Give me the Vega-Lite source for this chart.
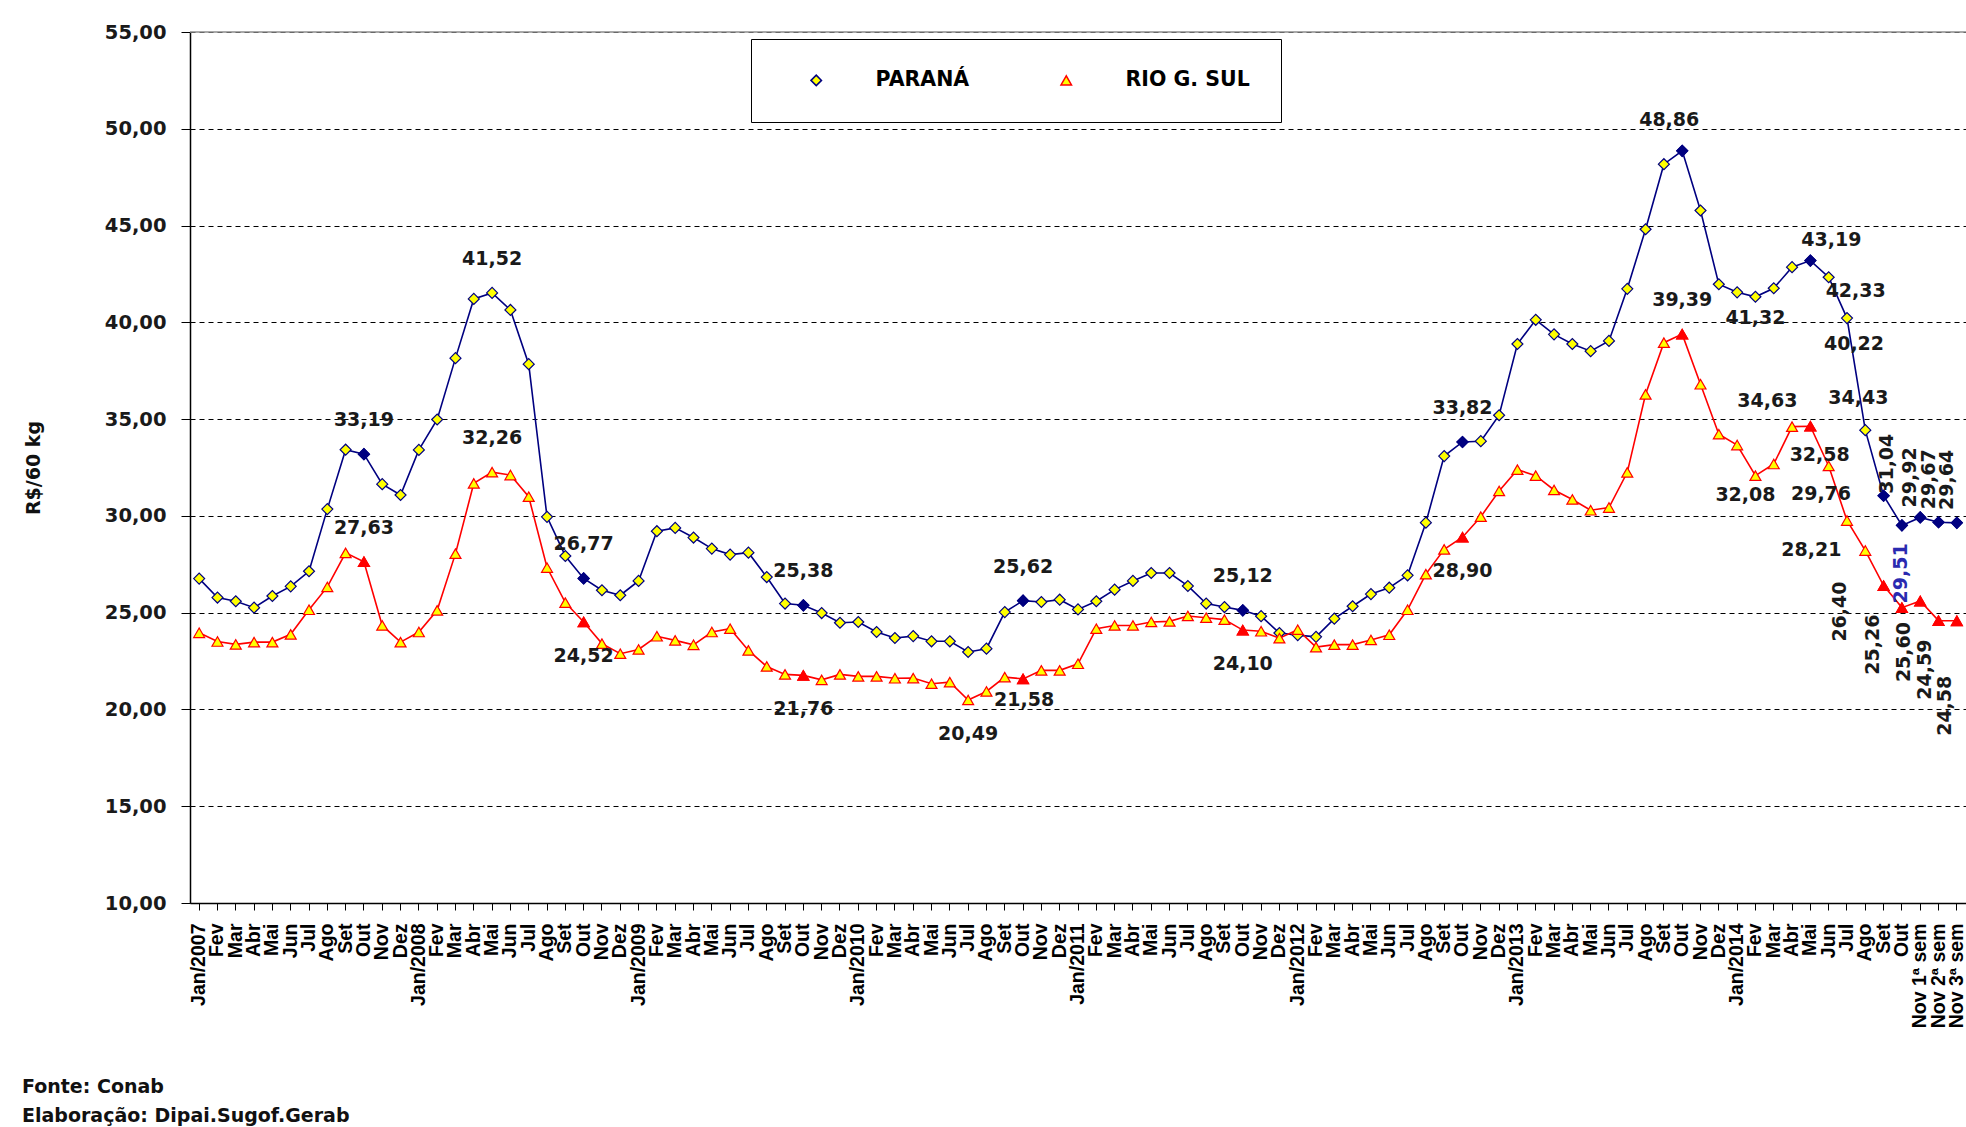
{
  "$schema": "https://vega.github.io/schema/vega-lite/v6.json",
  "autosize": {"type": "none"},
  "width": 1776,
  "height": 871,
  "padding": {"left": 190, "top": 32, "right": 0, "bottom": 224},
  "background": "white",
  "title": {
    "text": ["Fonte: Conab", "Elaboração: Dipai.Sugof.Gerab"],
    "orient": "bottom",
    "anchor": "start",
    "frame": "group",
    "dx": -168,
    "offset": 50,
    "font": "DejaVu Sans",
    "fontSize": 19,
    "fontWeight": "bold",
    "color": "#111111",
    "lineHeight": 29
  },
  "config": {
    "view": {"stroke": null}
  },
  "data": {"values": [
    {"periodo": "Jan/2007", "serie": "PARANÁ", "valor": 26.76},
    {"periodo": "Fev/2007", "serie": "PARANÁ", "valor": 25.78},
    {"periodo": "Mar/2007", "serie": "PARANÁ", "valor": 25.59},
    {"periodo": "Abr/2007", "serie": "PARANÁ", "valor": 25.26},
    {"periodo": "Mai/2007", "serie": "PARANÁ", "valor": 25.86},
    {"periodo": "Jun/2007", "serie": "PARANÁ", "valor": 26.36},
    {"periodo": "Jul/2007", "serie": "PARANÁ", "valor": 27.14},
    {"periodo": "Ago/2007", "serie": "PARANÁ", "valor": 30.35},
    {"periodo": "Set/2007", "serie": "PARANÁ", "valor": 33.42},
    {"periodo": "Out/2007", "serie": "PARANÁ", "valor": 33.19},
    {"periodo": "Nov/2007", "serie": "PARANÁ", "valor": 31.64},
    {"periodo": "Dez/2007", "serie": "PARANÁ", "valor": 31.08},
    {"periodo": "Jan/2008", "serie": "PARANÁ", "valor": 33.41},
    {"periodo": "Fev/2008", "serie": "PARANÁ", "valor": 34.98},
    {"periodo": "Mar/2008", "serie": "PARANÁ", "valor": 38.15},
    {"periodo": "Abr/2008", "serie": "PARANÁ", "valor": 41.21},
    {"periodo": "Mai/2008", "serie": "PARANÁ", "valor": 41.52},
    {"periodo": "Jun/2008", "serie": "PARANÁ", "valor": 40.64},
    {"periodo": "Jul/2008", "serie": "PARANÁ", "valor": 37.84},
    {"periodo": "Ago/2008", "serie": "PARANÁ", "valor": 29.95},
    {"periodo": "Set/2008", "serie": "PARANÁ", "valor": 27.93},
    {"periodo": "Out/2008", "serie": "PARANÁ", "valor": 26.77},
    {"periodo": "Nov/2008", "serie": "PARANÁ", "valor": 26.16},
    {"periodo": "Dez/2008", "serie": "PARANÁ", "valor": 25.90},
    {"periodo": "Jan/2009", "serie": "PARANÁ", "valor": 26.64},
    {"periodo": "Fev/2009", "serie": "PARANÁ", "valor": 29.21},
    {"periodo": "Mar/2009", "serie": "PARANÁ", "valor": 29.38},
    {"periodo": "Abr/2009", "serie": "PARANÁ", "valor": 28.88},
    {"periodo": "Mai/2009", "serie": "PARANÁ", "valor": 28.31},
    {"periodo": "Jun/2009", "serie": "PARANÁ", "valor": 28.00},
    {"periodo": "Jul/2009", "serie": "PARANÁ", "valor": 28.10},
    {"periodo": "Ago/2009", "serie": "PARANÁ", "valor": 26.84},
    {"periodo": "Set/2009", "serie": "PARANÁ", "valor": 25.47},
    {"periodo": "Out/2009", "serie": "PARANÁ", "valor": 25.38},
    {"periodo": "Nov/2009", "serie": "PARANÁ", "valor": 24.98},
    {"periodo": "Dez/2009", "serie": "PARANÁ", "valor": 24.48},
    {"periodo": "Jan/2010", "serie": "PARANÁ", "valor": 24.52},
    {"periodo": "Fev/2010", "serie": "PARANÁ", "valor": 24.00},
    {"periodo": "Mar/2010", "serie": "PARANÁ", "valor": 23.69},
    {"periodo": "Abr/2010", "serie": "PARANÁ", "valor": 23.79},
    {"periodo": "Mai/2010", "serie": "PARANÁ", "valor": 23.52},
    {"periodo": "Jun/2010", "serie": "PARANÁ", "valor": 23.52},
    {"periodo": "Jul/2010", "serie": "PARANÁ", "valor": 22.97},
    {"periodo": "Ago/2010", "serie": "PARANÁ", "valor": 23.14},
    {"periodo": "Set/2010", "serie": "PARANÁ", "valor": 25.03},
    {"periodo": "Out/2010", "serie": "PARANÁ", "valor": 25.62},
    {"periodo": "Nov/2010", "serie": "PARANÁ", "valor": 25.55},
    {"periodo": "Dez/2010", "serie": "PARANÁ", "valor": 25.67},
    {"periodo": "Jan/2011", "serie": "PARANÁ", "valor": 25.17},
    {"periodo": "Fev/2011", "serie": "PARANÁ", "valor": 25.59},
    {"periodo": "Mar/2011", "serie": "PARANÁ", "valor": 26.19},
    {"periodo": "Abr/2011", "serie": "PARANÁ", "valor": 26.64},
    {"periodo": "Mai/2011", "serie": "PARANÁ", "valor": 27.05},
    {"periodo": "Jun/2011", "serie": "PARANÁ", "valor": 27.05},
    {"periodo": "Jul/2011", "serie": "PARANÁ", "valor": 26.38},
    {"periodo": "Ago/2011", "serie": "PARANÁ", "valor": 25.47},
    {"periodo": "Set/2011", "serie": "PARANÁ", "valor": 25.29},
    {"periodo": "Out/2011", "serie": "PARANÁ", "valor": 25.12},
    {"periodo": "Nov/2011", "serie": "PARANÁ", "valor": 24.82},
    {"periodo": "Dez/2011", "serie": "PARANÁ", "valor": 23.95},
    {"periodo": "Jan/2012", "serie": "PARANÁ", "valor": 23.84},
    {"periodo": "Fev/2012", "serie": "PARANÁ", "valor": 23.75},
    {"periodo": "Mar/2012", "serie": "PARANÁ", "valor": 24.69},
    {"periodo": "Abr/2012", "serie": "PARANÁ", "valor": 25.33},
    {"periodo": "Mai/2012", "serie": "PARANÁ", "valor": 25.96},
    {"periodo": "Jun/2012", "serie": "PARANÁ", "valor": 26.29},
    {"periodo": "Jul/2012", "serie": "PARANÁ", "valor": 26.93},
    {"periodo": "Ago/2012", "serie": "PARANÁ", "valor": 29.65},
    {"periodo": "Set/2012", "serie": "PARANÁ", "valor": 33.09},
    {"periodo": "Out/2012", "serie": "PARANÁ", "valor": 33.82},
    {"periodo": "Nov/2012", "serie": "PARANÁ", "valor": 33.86},
    {"periodo": "Dez/2012", "serie": "PARANÁ", "valor": 35.20},
    {"periodo": "Jan/2013", "serie": "PARANÁ", "valor": 38.88},
    {"periodo": "Fev/2013", "serie": "PARANÁ", "valor": 40.13},
    {"periodo": "Mar/2013", "serie": "PARANÁ", "valor": 39.38},
    {"periodo": "Abr/2013", "serie": "PARANÁ", "valor": 38.88},
    {"periodo": "Mai/2013", "serie": "PARANÁ", "valor": 38.51},
    {"periodo": "Jun/2013", "serie": "PARANÁ", "valor": 39.04},
    {"periodo": "Jul/2013", "serie": "PARANÁ", "valor": 41.73},
    {"periodo": "Ago/2013", "serie": "PARANÁ", "valor": 44.81},
    {"periodo": "Set/2013", "serie": "PARANÁ", "valor": 48.17},
    {"periodo": "Out/2013", "serie": "PARANÁ", "valor": 48.86},
    {"periodo": "Nov/2013", "serie": "PARANÁ", "valor": 45.78},
    {"periodo": "Dez/2013", "serie": "PARANÁ", "valor": 41.97},
    {"periodo": "Jan/2014", "serie": "PARANÁ", "valor": 41.55},
    {"periodo": "Fev/2014", "serie": "PARANÁ", "valor": 41.32},
    {"periodo": "Mar/2014", "serie": "PARANÁ", "valor": 41.76},
    {"periodo": "Abr/2014", "serie": "PARANÁ", "valor": 42.85},
    {"periodo": "Mai/2014", "serie": "PARANÁ", "valor": 43.19},
    {"periodo": "Jun/2014", "serie": "PARANÁ", "valor": 42.33},
    {"periodo": "Jul/2014", "serie": "PARANÁ", "valor": 40.22},
    {"periodo": "Ago/2014", "serie": "PARANÁ", "valor": 34.43},
    {"periodo": "Set/2014", "serie": "PARANÁ", "valor": 31.04},
    {"periodo": "Out/2014", "serie": "PARANÁ", "valor": 29.51},
    {"periodo": "Nov 1ª sem", "serie": "PARANÁ", "valor": 29.92},
    {"periodo": "Nov 2ª sem", "serie": "PARANÁ", "valor": 29.67},
    {"periodo": "Nov 3ª sem", "serie": "PARANÁ", "valor": 29.64},
    {"periodo": "Jan/2007", "serie": "RIO G. SUL", "valor": 23.96},
    {"periodo": "Fev/2007", "serie": "RIO G. SUL", "valor": 23.51},
    {"periodo": "Mar/2007", "serie": "RIO G. SUL", "valor": 23.36},
    {"periodo": "Abr/2007", "serie": "RIO G. SUL", "valor": 23.48},
    {"periodo": "Mai/2007", "serie": "RIO G. SUL", "valor": 23.48},
    {"periodo": "Jun/2007", "serie": "RIO G. SUL", "valor": 23.88},
    {"periodo": "Jul/2007", "serie": "RIO G. SUL", "valor": 25.15},
    {"periodo": "Ago/2007", "serie": "RIO G. SUL", "valor": 26.33},
    {"periodo": "Set/2007", "serie": "RIO G. SUL", "valor": 28.09},
    {"periodo": "Out/2007", "serie": "RIO G. SUL", "valor": 27.63},
    {"periodo": "Nov/2007", "serie": "RIO G. SUL", "valor": 24.34},
    {"periodo": "Dez/2007", "serie": "RIO G. SUL", "valor": 23.48},
    {"periodo": "Jan/2008", "serie": "RIO G. SUL", "valor": 24.00},
    {"periodo": "Fev/2008", "serie": "RIO G. SUL", "valor": 25.12},
    {"periodo": "Mar/2008", "serie": "RIO G. SUL", "valor": 28.05},
    {"periodo": "Abr/2008", "serie": "RIO G. SUL", "valor": 31.68},
    {"periodo": "Mai/2008", "serie": "RIO G. SUL", "valor": 32.26},
    {"periodo": "Jun/2008", "serie": "RIO G. SUL", "valor": 32.11},
    {"periodo": "Jul/2008", "serie": "RIO G. SUL", "valor": 30.99},
    {"periodo": "Ago/2008", "serie": "RIO G. SUL", "valor": 27.33},
    {"periodo": "Set/2008", "serie": "RIO G. SUL", "valor": 25.52},
    {"periodo": "Out/2008", "serie": "RIO G. SUL", "valor": 24.52},
    {"periodo": "Nov/2008", "serie": "RIO G. SUL", "valor": 23.40},
    {"periodo": "Dez/2008", "serie": "RIO G. SUL", "valor": 22.88},
    {"periodo": "Jan/2009", "serie": "RIO G. SUL", "valor": 23.10},
    {"periodo": "Fev/2009", "serie": "RIO G. SUL", "valor": 23.78},
    {"periodo": "Mar/2009", "serie": "RIO G. SUL", "valor": 23.57},
    {"periodo": "Abr/2009", "serie": "RIO G. SUL", "valor": 23.34},
    {"periodo": "Mai/2009", "serie": "RIO G. SUL", "valor": 24.00},
    {"periodo": "Jun/2009", "serie": "RIO G. SUL", "valor": 24.17},
    {"periodo": "Jul/2009", "serie": "RIO G. SUL", "valor": 23.05},
    {"periodo": "Ago/2009", "serie": "RIO G. SUL", "valor": 22.22},
    {"periodo": "Set/2009", "serie": "RIO G. SUL", "valor": 21.81},
    {"periodo": "Out/2009", "serie": "RIO G. SUL", "valor": 21.76},
    {"periodo": "Nov/2009", "serie": "RIO G. SUL", "valor": 21.53},
    {"periodo": "Dez/2009", "serie": "RIO G. SUL", "valor": 21.81},
    {"periodo": "Jan/2010", "serie": "RIO G. SUL", "valor": 21.71},
    {"periodo": "Fev/2010", "serie": "RIO G. SUL", "valor": 21.71},
    {"periodo": "Mar/2010", "serie": "RIO G. SUL", "valor": 21.61},
    {"periodo": "Abr/2010", "serie": "RIO G. SUL", "valor": 21.62},
    {"periodo": "Mai/2010", "serie": "RIO G. SUL", "valor": 21.33},
    {"periodo": "Jun/2010", "serie": "RIO G. SUL", "valor": 21.41},
    {"periodo": "Jul/2010", "serie": "RIO G. SUL", "valor": 20.49},
    {"periodo": "Ago/2010", "serie": "RIO G. SUL", "valor": 20.93},
    {"periodo": "Set/2010", "serie": "RIO G. SUL", "valor": 21.67},
    {"periodo": "Out/2010", "serie": "RIO G. SUL", "valor": 21.58},
    {"periodo": "Nov/2010", "serie": "RIO G. SUL", "valor": 22.02},
    {"periodo": "Dez/2010", "serie": "RIO G. SUL", "valor": 22.02},
    {"periodo": "Jan/2011", "serie": "RIO G. SUL", "valor": 22.36},
    {"periodo": "Fev/2011", "serie": "RIO G. SUL", "valor": 24.17},
    {"periodo": "Mar/2011", "serie": "RIO G. SUL", "valor": 24.34},
    {"periodo": "Abr/2011", "serie": "RIO G. SUL", "valor": 24.34},
    {"periodo": "Mai/2011", "serie": "RIO G. SUL", "valor": 24.52},
    {"periodo": "Jun/2011", "serie": "RIO G. SUL", "valor": 24.55},
    {"periodo": "Jul/2011", "serie": "RIO G. SUL", "valor": 24.83},
    {"periodo": "Ago/2011", "serie": "RIO G. SUL", "valor": 24.74},
    {"periodo": "Set/2011", "serie": "RIO G. SUL", "valor": 24.64},
    {"periodo": "Out/2011", "serie": "RIO G. SUL", "valor": 24.10},
    {"periodo": "Nov/2011", "serie": "RIO G. SUL", "valor": 24.04},
    {"periodo": "Dez/2011", "serie": "RIO G. SUL", "valor": 23.68},
    {"periodo": "Jan/2012", "serie": "RIO G. SUL", "valor": 24.12},
    {"periodo": "Fev/2012", "serie": "RIO G. SUL", "valor": 23.22},
    {"periodo": "Mar/2012", "serie": "RIO G. SUL", "valor": 23.35},
    {"periodo": "Abr/2012", "serie": "RIO G. SUL", "valor": 23.35},
    {"periodo": "Mai/2012", "serie": "RIO G. SUL", "valor": 23.59},
    {"periodo": "Jun/2012", "serie": "RIO G. SUL", "valor": 23.86},
    {"periodo": "Jul/2012", "serie": "RIO G. SUL", "valor": 25.15},
    {"periodo": "Ago/2012", "serie": "RIO G. SUL", "valor": 26.99},
    {"periodo": "Set/2012", "serie": "RIO G. SUL", "valor": 28.27},
    {"periodo": "Out/2012", "serie": "RIO G. SUL", "valor": 28.90},
    {"periodo": "Nov/2012", "serie": "RIO G. SUL", "valor": 29.96},
    {"periodo": "Dez/2012", "serie": "RIO G. SUL", "valor": 31.29},
    {"periodo": "Jan/2013", "serie": "RIO G. SUL", "valor": 32.39},
    {"periodo": "Fev/2013", "serie": "RIO G. SUL", "valor": 32.08},
    {"periodo": "Mar/2013", "serie": "RIO G. SUL", "valor": 31.34},
    {"periodo": "Abr/2013", "serie": "RIO G. SUL", "valor": 30.85},
    {"periodo": "Mai/2013", "serie": "RIO G. SUL", "valor": 30.29},
    {"periodo": "Jun/2013", "serie": "RIO G. SUL", "valor": 30.43},
    {"periodo": "Jul/2013", "serie": "RIO G. SUL", "valor": 32.25},
    {"periodo": "Ago/2013", "serie": "RIO G. SUL", "valor": 36.28},
    {"periodo": "Set/2013", "serie": "RIO G. SUL", "valor": 38.95},
    {"periodo": "Out/2013", "serie": "RIO G. SUL", "valor": 39.39},
    {"periodo": "Nov/2013", "serie": "RIO G. SUL", "valor": 36.80},
    {"periodo": "Dez/2013", "serie": "RIO G. SUL", "valor": 34.22},
    {"periodo": "Jan/2014", "serie": "RIO G. SUL", "valor": 33.66},
    {"periodo": "Fev/2014", "serie": "RIO G. SUL", "valor": 32.08},
    {"periodo": "Mar/2014", "serie": "RIO G. SUL", "valor": 32.68},
    {"periodo": "Abr/2014", "serie": "RIO G. SUL", "valor": 34.61},
    {"periodo": "Mai/2014", "serie": "RIO G. SUL", "valor": 34.63},
    {"periodo": "Jun/2014", "serie": "RIO G. SUL", "valor": 32.58},
    {"periodo": "Jul/2014", "serie": "RIO G. SUL", "valor": 29.76},
    {"periodo": "Ago/2014", "serie": "RIO G. SUL", "valor": 28.21},
    {"periodo": "Set/2014", "serie": "RIO G. SUL", "valor": 26.40},
    {"periodo": "Out/2014", "serie": "RIO G. SUL", "valor": 25.26},
    {"periodo": "Nov 1ª sem", "serie": "RIO G. SUL", "valor": 25.60},
    {"periodo": "Nov 2ª sem", "serie": "RIO G. SUL", "valor": 24.59},
    {"periodo": "Nov 3ª sem", "serie": "RIO G. SUL", "valor": 24.58}
  ]},
  "transform": [{"calculate": "replace(format(datum.valor, '.2f'), '.', ',')", "as": "rotulo"}],
  "layer": [
    {
      "transform": [{"filter": {"field": "serie", "equal": "PARANÁ"}}],
      "mark": {"type": "line", "strokeWidth": 1.6, "color": "#000080"},
      "encoding": {
        "x": {
          "field": "periodo", "type": "ordinal", "sort": null,
          "scale": {"type": "band", "paddingInner": 0, "paddingOuter": 0},
          "axis": {
            "title": null,
            "labelAngle": 270,
            "labelAlign": "right",
            "labelBaseline": "middle",
            "labelFont": "Liberation Sans",
            "labelFontWeight": "bold",
            "labelFontSize": 19.5,
            "labelColor": "#000000",
            "labelPadding": 13,
            "labelOverlap": false,
            "labelExpr": "indexof(datum.value, 'Jan') === 0 || indexof(datum.value, 'Nov ') === 0 ? datum.value : split(datum.value, '/')[0]",
            "tickSize": 7,
            "tickColor": "#000000",
            "domainColor": "#000000",
            "domainWidth": 1.5,
            "grid": false
          }
        },
        "y": {
          "field": "valor", "type": "quantitative",
          "scale": {"domain": [10, 55], "nice": false, "zero": false},
          "axis": {
            "title": "R$/60 kg",
            "titleFont": "DejaVu Sans",
            "titleFontSize": 19,
            "titleFontWeight": "bold",
            "titleColor": "#111111",
            "titlePadding": 61,
            "values": [10, 15, 20, 25, 30, 35, 40, 45, 50, 55],
            "labelExpr": "replace(format(datum.value, '.2f'), '.', ',')",
            "labelFont": "DejaVu Sans",
            "labelFontWeight": "bold",
            "labelFontSize": 19.5,
            "labelColor": "#1a1a1a",
            "labelPadding": 15,
            "tickSize": 9,
            "tickColor": "#000000",
            "domainColor": "#000000",
            "domainWidth": 1.5,
            "grid": true,
            "gridColor": "#000000",
            "gridDash": [5, 4],
            "gridWidth": 1.2
          }
        }
      }
    },
    {
      "transform": [{"filter": {"field": "serie", "equal": "RIO G. SUL"}}],
      "mark": {"type": "line", "strokeWidth": 1.6, "color": "#FF0000"},
      "encoding": {
        "x": {"field": "periodo", "type": "ordinal", "sort": null},
        "y": {"field": "valor", "type": "quantitative"}
      }
    },
    {
      "mark": {"type": "point", "filled": true, "fill": "#FFFF00", "strokeWidth": 1.2, "size": 120, "opacity": 1},
      "encoding": {
        "x": {"field": "periodo", "type": "ordinal", "sort": null},
        "y": {"field": "valor", "type": "quantitative"},
        "stroke": {
          "field": "serie", "type": "nominal",
          "scale": {"domain": ["PARANÁ", "RIO G. SUL"], "range": ["#000080", "#FF0000"]},
          "legend": {
            "title": null,
            "orient": "none",
            "legendX": 561,
            "legendY": 7,
            "direction": "horizontal",
            "padding": 31,
            "strokeColor": "#000000",
            "fillColor": "#FFFFFF",
            "columnPadding": 62,
            "symbolOffset": 24,
            "labelOffset": 49,
            "symbolSize": 110,
            "symbolStrokeWidth": 1.5,
            "labelFont": "DejaVu Sans",
            "labelFontWeight": "bold",
            "labelFontSize": 20.5,
            "labelColor": "#000000",
            "encode": {"symbols": {"fill": {"value": "#FFFF00"}, "opacity": {"value": 1}}}
          }
        },
        "shape": {
          "field": "serie", "type": "nominal",
          "scale": {"domain": ["PARANÁ", "RIO G. SUL"], "range": ["diamond", "triangle-up"]},
          "legend": {
            "title": null,
            "orient": "none",
            "legendX": 561,
            "legendY": 7,
            "direction": "horizontal",
            "padding": 31,
            "strokeColor": "#000000",
            "fillColor": "#FFFFFF",
            "columnPadding": 62,
            "symbolOffset": 24,
            "labelOffset": 49,
            "symbolSize": 110,
            "symbolStrokeWidth": 1.5,
            "labelFont": "DejaVu Sans",
            "labelFontWeight": "bold",
            "labelFontSize": 20.5,
            "labelColor": "#000000",
            "encode": {"symbols": {"fill": {"value": "#FFFF00"}, "opacity": {"value": 1}}}
          }
        }
      }
    },
    {
      "transform": [{"filter": {"and": [{"field": "serie", "equal": "PARANÁ"}, {"field": "periodo", "oneOf": ["Out/2007", "Out/2008", "Out/2009", "Out/2010", "Out/2011", "Out/2012", "Out/2013", "Mai/2014", "Set/2014", "Out/2014", "Nov 1ª sem", "Nov 2ª sem", "Nov 3ª sem"]}]}}],
      "mark": {"type": "point", "filled": true, "shape": "diamond", "fill": "#000080", "stroke": "#000080", "strokeWidth": 1.2, "size": 120, "opacity": 1},
      "encoding": {
        "x": {"field": "periodo", "type": "ordinal", "sort": null},
        "y": {"field": "valor", "type": "quantitative"}
      }
    },
    {
      "transform": [{"filter": {"and": [{"field": "serie", "equal": "RIO G. SUL"}, {"field": "periodo", "oneOf": ["Out/2007", "Out/2008", "Out/2009", "Out/2010", "Out/2011", "Out/2012", "Out/2013", "Mai/2014", "Set/2014", "Out/2014", "Nov 1ª sem", "Nov 2ª sem", "Nov 3ª sem"]}]}}],
      "mark": {"type": "point", "filled": true, "shape": "triangle-up", "fill": "#FF0000", "stroke": "#FF0000", "strokeWidth": 1.2, "size": 120, "opacity": 1},
      "encoding": {
        "x": {"field": "periodo", "type": "ordinal", "sort": null},
        "y": {"field": "valor", "type": "quantitative"}
      }
    },
    {
      "data": {"values": [{"topo": 55}]},
      "mark": {"type": "rule", "color": "#8c8c8c", "strokeWidth": 1.5},
      "encoding": {"y": {"field": "topo", "type": "quantitative"}}
    },
    {
      "transform": [{"filter": {"or": [
        {"and": [{"field": "serie", "equal": "PARANÁ"}, {"field": "periodo", "oneOf": ["Out/2007", "Mai/2008", "Out/2008", "Out/2009", "Out/2010", "Out/2011", "Out/2012"]}]},
        {"and": [{"field": "serie", "equal": "RIO G. SUL"}, {"field": "periodo", "oneOf": ["Out/2007", "Mai/2008", "Out/2013"]}]}
      ]}}],
      "mark": {"type": "text", "font": "DejaVu Sans", "fontWeight": "bold", "fontSize": 19, "fill": "#1a1a1a", "align": "center", "baseline": "middle", "dy": -34},
      "encoding": {"x": {"field": "periodo", "type": "ordinal", "sort": null}, "y": {"field": "valor", "type": "quantitative"}, "text": {"field": "rotulo"}}
    },
    {
      "transform": [{"filter": {"and": [{"field": "serie", "equal": "RIO G. SUL"}, {"field": "periodo", "oneOf": ["Out/2008", "Out/2009", "Jul/2010", "Out/2011", "Out/2012"]}]}}],
      "mark": {"type": "text", "font": "DejaVu Sans", "fontWeight": "bold", "fontSize": 19, "fill": "#1a1a1a", "align": "center", "baseline": "middle", "dy": 34},
      "encoding": {"x": {"field": "periodo", "type": "ordinal", "sort": null}, "y": {"field": "valor", "type": "quantitative"}, "text": {"field": "rotulo"}}
    },
    {
      "transform": [{"filter": {"and": [{"field": "serie", "equal": "RIO G. SUL"}, {"field": "periodo", "equal": "Out/2010"}]}}],
      "mark": {"type": "text", "font": "DejaVu Sans", "fontWeight": "bold", "fontSize": 19, "fill": "#1a1a1a", "align": "center", "baseline": "middle", "dx": 1, "dy": 21},
      "encoding": {"x": {"field": "periodo", "type": "ordinal", "sort": null}, "y": {"field": "valor", "type": "quantitative"}, "text": {"field": "rotulo"}}
    },
    {
      "transform": [{"filter": {"and": [{"field": "serie", "equal": "PARANÁ"}, {"field": "periodo", "equal": "Out/2013"}]}}],
      "mark": {"type": "text", "font": "DejaVu Sans", "fontWeight": "bold", "fontSize": 19, "fill": "#1a1a1a", "align": "center", "baseline": "middle", "dx": -13, "dy": -31},
      "encoding": {"x": {"field": "periodo", "type": "ordinal", "sort": null}, "y": {"field": "valor", "type": "quantitative"}, "text": {"field": "rotulo"}}
    },
    {
      "transform": [{"filter": {"and": [{"field": "serie", "equal": "PARANÁ"}, {"field": "periodo", "equal": "Fev/2014"}]}}],
      "mark": {"type": "text", "font": "DejaVu Sans", "fontWeight": "bold", "fontSize": 19, "fill": "#1a1a1a", "align": "center", "baseline": "middle", "dx": 0, "dy": 21},
      "encoding": {"x": {"field": "periodo", "type": "ordinal", "sort": null}, "y": {"field": "valor", "type": "quantitative"}, "text": {"field": "rotulo"}}
    },
    {
      "transform": [{"filter": {"and": [{"field": "serie", "equal": "PARANÁ"}, {"field": "periodo", "equal": "Mai/2014"}]}}],
      "mark": {"type": "text", "font": "DejaVu Sans", "fontWeight": "bold", "fontSize": 19, "fill": "#1a1a1a", "align": "center", "baseline": "middle", "dx": 21, "dy": -21},
      "encoding": {"x": {"field": "periodo", "type": "ordinal", "sort": null}, "y": {"field": "valor", "type": "quantitative"}, "text": {"field": "rotulo"}}
    },
    {
      "transform": [{"filter": {"and": [{"field": "serie", "equal": "PARANÁ"}, {"field": "periodo", "equal": "Jun/2014"}]}}],
      "mark": {"type": "text", "font": "DejaVu Sans", "fontWeight": "bold", "fontSize": 19, "fill": "#1a1a1a", "align": "center", "baseline": "middle", "dx": 27, "dy": 14},
      "encoding": {"x": {"field": "periodo", "type": "ordinal", "sort": null}, "y": {"field": "valor", "type": "quantitative"}, "text": {"field": "rotulo"}}
    },
    {
      "transform": [{"filter": {"and": [{"field": "serie", "equal": "PARANÁ"}, {"field": "periodo", "equal": "Jul/2014"}]}}],
      "mark": {"type": "text", "font": "DejaVu Sans", "fontWeight": "bold", "fontSize": 19, "fill": "#1a1a1a", "align": "center", "baseline": "middle", "dx": 7, "dy": 26},
      "encoding": {"x": {"field": "periodo", "type": "ordinal", "sort": null}, "y": {"field": "valor", "type": "quantitative"}, "text": {"field": "rotulo"}}
    },
    {
      "transform": [{"filter": {"and": [{"field": "serie", "equal": "PARANÁ"}, {"field": "periodo", "equal": "Ago/2014"}]}}],
      "mark": {"type": "text", "font": "DejaVu Sans", "fontWeight": "bold", "fontSize": 19, "fill": "#1a1a1a", "align": "center", "baseline": "middle", "dx": -7, "dy": -32},
      "encoding": {"x": {"field": "periodo", "type": "ordinal", "sort": null}, "y": {"field": "valor", "type": "quantitative"}, "text": {"field": "rotulo"}}
    },
    {
      "transform": [{"filter": {"and": [{"field": "serie", "equal": "RIO G. SUL"}, {"field": "periodo", "equal": "Fev/2014"}]}}],
      "mark": {"type": "text", "font": "DejaVu Sans", "fontWeight": "bold", "fontSize": 19, "fill": "#1a1a1a", "align": "center", "baseline": "middle", "dx": -10, "dy": 19},
      "encoding": {"x": {"field": "periodo", "type": "ordinal", "sort": null}, "y": {"field": "valor", "type": "quantitative"}, "text": {"field": "rotulo"}}
    },
    {
      "transform": [{"filter": {"and": [{"field": "serie", "equal": "RIO G. SUL"}, {"field": "periodo", "equal": "Mai/2014"}]}}],
      "mark": {"type": "text", "font": "DejaVu Sans", "fontWeight": "bold", "fontSize": 19, "fill": "#1a1a1a", "align": "center", "baseline": "middle", "dx": -43, "dy": -25},
      "encoding": {"x": {"field": "periodo", "type": "ordinal", "sort": null}, "y": {"field": "valor", "type": "quantitative"}, "text": {"field": "rotulo"}}
    },
    {
      "transform": [{"filter": {"and": [{"field": "serie", "equal": "RIO G. SUL"}, {"field": "periodo", "equal": "Jun/2014"}]}}],
      "mark": {"type": "text", "font": "DejaVu Sans", "fontWeight": "bold", "fontSize": 19, "fill": "#1a1a1a", "align": "center", "baseline": "middle", "dx": -9, "dy": -11},
      "encoding": {"x": {"field": "periodo", "type": "ordinal", "sort": null}, "y": {"field": "valor", "type": "quantitative"}, "text": {"field": "rotulo"}}
    },
    {
      "transform": [{"filter": {"and": [{"field": "serie", "equal": "RIO G. SUL"}, {"field": "periodo", "equal": "Jul/2014"}]}}],
      "mark": {"type": "text", "font": "DejaVu Sans", "fontWeight": "bold", "fontSize": 19, "fill": "#1a1a1a", "align": "center", "baseline": "middle", "dx": -26, "dy": -27},
      "encoding": {"x": {"field": "periodo", "type": "ordinal", "sort": null}, "y": {"field": "valor", "type": "quantitative"}, "text": {"field": "rotulo"}}
    },
    {
      "transform": [{"filter": {"and": [{"field": "serie", "equal": "RIO G. SUL"}, {"field": "periodo", "equal": "Ago/2014"}]}}],
      "mark": {"type": "text", "font": "DejaVu Sans", "fontWeight": "bold", "fontSize": 19, "fill": "#1a1a1a", "align": "center", "baseline": "middle", "dx": -54, "dy": -1},
      "encoding": {"x": {"field": "periodo", "type": "ordinal", "sort": null}, "y": {"field": "valor", "type": "quantitative"}, "text": {"field": "rotulo"}}
    },
    {
      "transform": [{"filter": {"and": [{"field": "serie", "equal": "PARANÁ"}, {"field": "periodo", "equal": "Set/2014"}]}}],
      "mark": {"type": "text", "font": "DejaVu Sans", "fontWeight": "bold", "fontSize": 19, "fill": "#1a1a1a", "align": "center", "baseline": "middle", "angle": 270, "dx": 32, "dy": 3},
      "encoding": {"x": {"field": "periodo", "type": "ordinal", "sort": null}, "y": {"field": "valor", "type": "quantitative"}, "text": {"field": "rotulo"}}
    },
    {
      "transform": [{"filter": {"and": [{"field": "serie", "equal": "PARANÁ"}, {"field": "periodo", "equal": "Out/2014"}]}}],
      "mark": {"type": "text", "font": "DejaVu Sans", "fontWeight": "bold", "fontSize": 19, "fill": "#2a2ab0", "align": "center", "baseline": "middle", "angle": 270, "dx": -48, "dy": -1},
      "encoding": {"x": {"field": "periodo", "type": "ordinal", "sort": null}, "y": {"field": "valor", "type": "quantitative"}, "text": {"field": "rotulo"}}
    },
    {
      "transform": [{"filter": {"and": [{"field": "serie", "equal": "PARANÁ"}, {"field": "periodo", "equal": "Nov 1ª sem"}]}}],
      "mark": {"type": "text", "font": "DejaVu Sans", "fontWeight": "bold", "fontSize": 19, "fill": "#1a1a1a", "align": "center", "baseline": "middle", "angle": 270, "dx": 40, "dy": -10},
      "encoding": {"x": {"field": "periodo", "type": "ordinal", "sort": null}, "y": {"field": "valor", "type": "quantitative"}, "text": {"field": "rotulo"}}
    },
    {
      "transform": [{"filter": {"and": [{"field": "serie", "equal": "PARANÁ"}, {"field": "periodo", "oneOf": ["Nov 2ª sem", "Nov 3ª sem"]}]}}],
      "mark": {"type": "text", "font": "DejaVu Sans", "fontWeight": "bold", "fontSize": 19, "fill": "#1a1a1a", "align": "center", "baseline": "middle", "angle": 270, "dx": 43, "dy": -10},
      "encoding": {"x": {"field": "periodo", "type": "ordinal", "sort": null}, "y": {"field": "valor", "type": "quantitative"}, "text": {"field": "rotulo"}}
    },
    {
      "transform": [{"filter": {"and": [{"field": "serie", "equal": "RIO G. SUL"}, {"field": "periodo", "equal": "Set/2014"}]}}],
      "mark": {"type": "text", "font": "DejaVu Sans", "fontWeight": "bold", "fontSize": 19, "fill": "#1a1a1a", "align": "center", "baseline": "middle", "angle": 270, "dx": -26, "dy": -44},
      "encoding": {"x": {"field": "periodo", "type": "ordinal", "sort": null}, "y": {"field": "valor", "type": "quantitative"}, "text": {"field": "rotulo"}}
    },
    {
      "transform": [{"filter": {"and": [{"field": "serie", "equal": "RIO G. SUL"}, {"field": "periodo", "equal": "Out/2014"}]}}],
      "mark": {"type": "text", "font": "DejaVu Sans", "fontWeight": "bold", "fontSize": 19, "fill": "#1a1a1a", "align": "center", "baseline": "middle", "angle": 270, "dx": -37, "dy": -29},
      "encoding": {"x": {"field": "periodo", "type": "ordinal", "sort": null}, "y": {"field": "valor", "type": "quantitative"}, "text": {"field": "rotulo"}}
    },
    {
      "transform": [{"filter": {"and": [{"field": "serie", "equal": "RIO G. SUL"}, {"field": "periodo", "equal": "Nov 1ª sem"}]}}],
      "mark": {"type": "text", "font": "DejaVu Sans", "fontWeight": "bold", "fontSize": 19, "fill": "#1a1a1a", "align": "center", "baseline": "middle", "angle": 270, "dx": -51, "dy": -16},
      "encoding": {"x": {"field": "periodo", "type": "ordinal", "sort": null}, "y": {"field": "valor", "type": "quantitative"}, "text": {"field": "rotulo"}}
    },
    {
      "transform": [{"filter": {"and": [{"field": "serie", "equal": "RIO G. SUL"}, {"field": "periodo", "equal": "Nov 2ª sem"}]}}],
      "mark": {"type": "text", "font": "DejaVu Sans", "fontWeight": "bold", "fontSize": 19, "fill": "#1a1a1a", "align": "center", "baseline": "middle", "angle": 270, "dx": -49, "dy": -14},
      "encoding": {"x": {"field": "periodo", "type": "ordinal", "sort": null}, "y": {"field": "valor", "type": "quantitative"}, "text": {"field": "rotulo"}}
    },
    {
      "transform": [{"filter": {"and": [{"field": "serie", "equal": "RIO G. SUL"}, {"field": "periodo", "equal": "Nov 3ª sem"}]}}],
      "mark": {"type": "text", "font": "DejaVu Sans", "fontWeight": "bold", "fontSize": 19, "fill": "#1a1a1a", "align": "center", "baseline": "middle", "angle": 270, "dx": -85, "dy": -12},
      "encoding": {"x": {"field": "periodo", "type": "ordinal", "sort": null}, "y": {"field": "valor", "type": "quantitative"}, "text": {"field": "rotulo"}}
    }
  ]
}
